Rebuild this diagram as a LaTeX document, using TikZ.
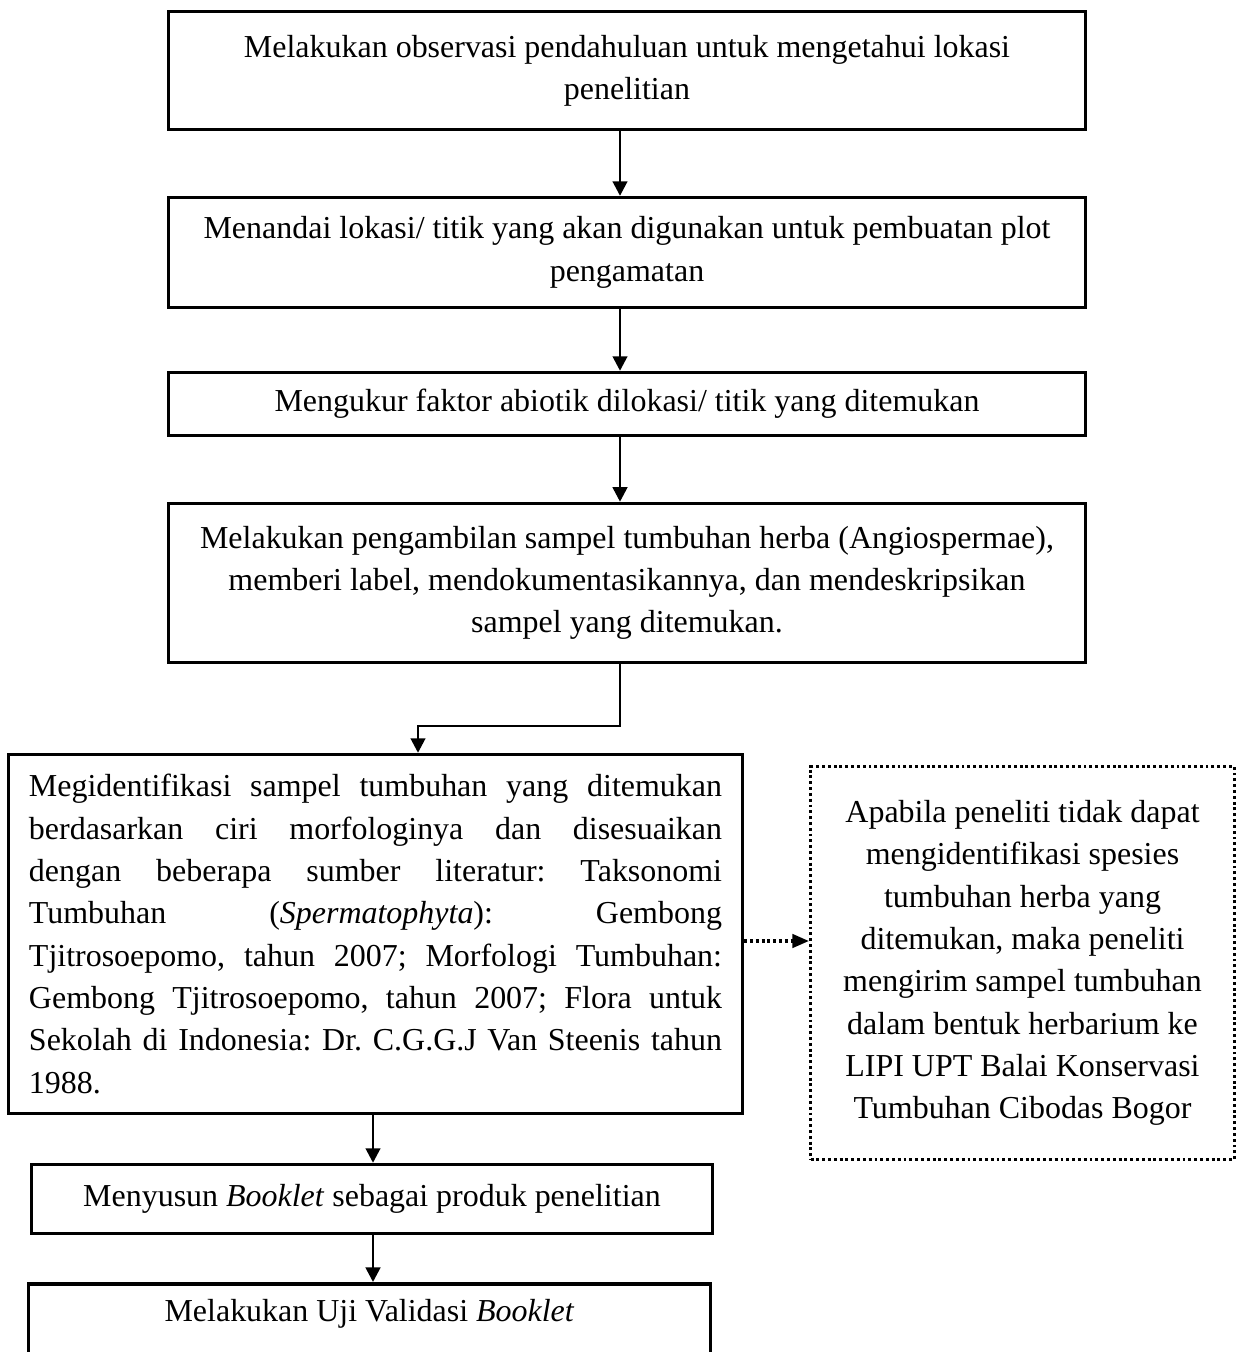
\documentclass[tikz,border=0pt]{standalone}
\usepackage{fontspec}
\setmainfont{Liberation Serif}
\usetikzlibrary{positioning,calc,arrows.meta}

\begin{document}
\begin{tikzpicture}[x=0.4818pt,y=-0.4818pt,font=\fontsize{15.4}{20.4}\selectfont\frenchspacing,
  kotak/.style={draw,line width=1.7pt,align=center,inner sep=0pt},
  catatan/.style={draw,line width=1.6pt,dash pattern=on 1.4pt off 1.4pt,align=center,inner sep=0pt},
  panah/.style={line width=1.3pt,-{Triangle[length=7pt,width=7pt]}},
  panahtitik/.style={line width=1.5pt,dash pattern=on 1.4pt off 1.4pt,-{Triangle[length=8pt,width=6.5pt]}}]
\useasboundingbox (0,0) rectangle (1240,1352);
\node[kotak,minimum width=441.8pt,minimum height=56.8pt] (obs) at (627,70.5)
  {Melakukan observasi pendahuluan untuk mengetahui lokasi\\ penelitian};
\node[kotak,minimum width=441.8pt,minimum height=52.9pt] (tanda) at (627,252.5)
  {Menandai lokasi/ titik yang akan digunakan untuk pembuatan plot\\ pengamatan};
\node[kotak,minimum width=441.8pt,minimum height=30.3pt] (ukur) at (627,404)
  {Mengukur faktor abiotik dilokasi/ titik yang ditemukan};
\node[kotak,minimum width=441.8pt,minimum height=76.6pt] (ambil) at (627,583)
  {Melakukan pengambilan sampel tumbuhan herba (Angiospermae),\\ memberi label, mendokumentasikannya, dan mendeskripsikan\\ sampel yang ditemukan.};
\node[kotak,align=justify,text width=333.9pt,minimum width=353.6pt,minimum height=172.9pt] (ident) at (375.5,934)
  {Megidentifikasi sampel tumbuhan yang ditemukan\linebreak
   berdasarkan ciri morfologinya dan disesuaikan\linebreak
   dengan beberapa sumber literatur: Taksonomi\linebreak
   Tumbuhan (\textit{Spermatophyta}): Gembong\linebreak
   Tjitrosoepomo, tahun 2007; Morfologi Tumbuhan:\linebreak
   Gembong Tjitrosoepomo, tahun 2007; Flora untuk\linebreak
   Sekolah di Indonesia: Dr. C.G.G.J Van Steenis tahun\linebreak
   1988.};
\node[catatan,minimum width=204.2pt,minimum height=189.3pt] (kirim) at (1022.5,963)
  {Apabila peneliti tidak dapat\\ mengidentifikasi spesies\\ tumbuhan herba yang\\ ditemukan, maka peneliti\\ mengirim sampel tumbuhan\\ dalam bentuk herbarium ke\\ LIPI UPT Balai Konservasi\\ Tumbuhan Cibodas Bogor};
\node[kotak,minimum width=328.1pt,minimum height=33.2pt] (susun) at (372,1199)
  {Menyusun \textit{Booklet} sebagai produk penelitian};
\node[kotak,minimum width=328.5pt,text height=18.3pt,text depth=40pt,anchor=north] (uji) at (369.5,1282)
  {Melakukan Uji Validasi \textit{Booklet}};
\coordinate (xa) at (620,0);
\coordinate (xb) at (373,0);
\coordinate (belok) at (418,726);
\coordinate (yt) at (0,941);
\draw[panah] (obs.south -| xa) -- (tanda.north -| xa);
\draw[panah] (tanda.south -| xa) -- (ukur.north -| xa);
\draw[panah] (ukur.south -| xa) -- (ambil.north -| xa);
\draw[panah] (ambil.south -| xa) |- (belok) -- (ident.north -| belok);
\draw[panahtitik] (ident.east |- yt) -- (kirim.west |- yt);
\draw[panah] (ident.south -| xb) -- (susun.north -| xb);
\draw[panah] (susun.south -| xb) -- (uji.north -| xb);
\end{tikzpicture}
\end{document}
